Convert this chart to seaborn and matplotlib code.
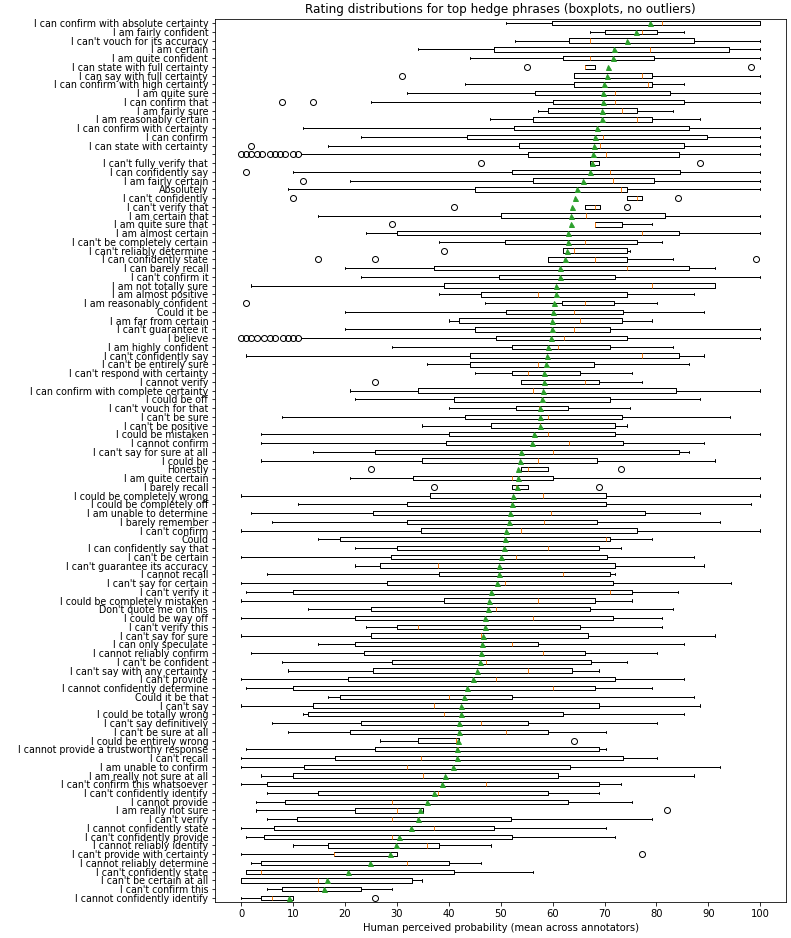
# plot.py
# Boxplots of human ratings for hedge phrases (summary stats)

import matplotlib
matplotlib.use("Agg")
import matplotlib.pyplot as plt
import seaborn as sns

# phrase labels, top to bottom (sorted by mean rating)
labels = [
    "I can confirm with absolute certainty", "I am fairly confident", "I can't vouch for its accuracy",
    "I am certain", "I am quite confident", "I can state with full certainty",
    "I can say with full certainty", "I can confirm with high certainty", "I am quite sure",
    "I can confirm that", "I am fairly sure", "I am reasonably certain",
    "I can confirm with certainty", "I can confirm", "I can state with certainty", "",
    "I can't fully verify that", "I can confidently say", "I am fairly certain", "Absolutely",
    "I can't confidently", "I can't verify that", "I am certain that", "I am quite sure that",
    "I am almost certain", "I can't be completely certain", "I can't reliably determine",
    "I can confidently state", "I can barely recall", "I can't confirm it", "I am not totally sure",
    "I am almost positive", "I am reasonably confident", "Could it be", "I am far from certain",
    "I can't guarantee it", "I believe", "I am highly confident", "I can't confidently say",
    "I can't be entirely sure", "I can't respond with certainty", "I cannot verify",
    "I can confirm with complete certainty", "I could be off", "I can't vouch for that",
    "I can't be sure", "I can't be positive", "I could be mistaken", "I cannot confirm",
    "I can't say for sure at all", "I could be", "Honestly", "I am quite certain", "I barely recall",
    "I could be completely wrong", "I could be completely off", "I am unable to determine",
    "I barely remember", "I can't confirm", "Could", "I can confidently say that",
    "I can't be certain", "I can't guarantee its accuracy", "I cannot recall",
    "I can't say for certain", "I can't verify it", "I could be completely mistaken",
    "Don't quote me on this", "I could be way off", "I can't verify this", "I can't say for sure",
    "I can only speculate", "I cannot reliably confirm", "I can't be confident",
    "I can't say with any certainty", "I can't provide", "I cannot confidently determine",
    "Could it be that", "I can't say", "I could be totally wrong", "I can't say definitively",
    "I can't be sure at all", "I could be entirely wrong", "I cannot provide a trustworthy response",
    "I can't recall", "I am unable to confirm", "I am really not sure at all",
    "I can't confirm this whatsoever", "I can't confidently identify", "I cannot provide",
    "I am really not sure", "I can't verify", "I cannot confidently state",
    "I can't confidently provide", "I cannot reliably identify", "I can't provide with certainty",
    "I cannot reliably determine", "I can't confidently state", "I can't be certain at all",
    "I can't confirm this", "I cannot confidently identify",
]

whislo = [51.1, 67.2, 52.8, 34.0, 44.0, 66.2, 64.1, 43.1, 32.0, 25.0, 57.1, 47.9, 11.9, 23.0, 16.8, 11.6,
          67.2, 10.0, 20.9, 9.0, 74.3, 66.2, 14.9, 68.2, 24.0, 38.1, 62.0, 59.1, 20.1, 23.0, 2.0,
          38.1, 47.0, 20.1, 40.0, 20.1, 11.6, 29.1, 1.0, 35.9, 45.0, 54.0, 21.0, 22.0, 40.0, 7.8,
          34.9, 3.9, 3.9, 13.9, 3.9, 54.0, 21.0, 52.1, 0.0, 11.0, 2.0, 5.9, 0.0, 14.9, 22.0, 0.0,
          22.0, 4.9, 0.0, 1.0, 0.0, 12.9, 0.0, 24.0, 0.0, 14.9, 2.0, 7.8, 9.0, 0.0, 1.0, 16.8, 0.0,
          11.9, 5.9, 9.0, 26.8, 1.0, 0.0, 0.0, 3.9, 0.0, 4.9, 2.9, 2.9, 4.9, 0.0, 1.0, 10.0, 0.0,
          2.0, 1.0, 0.0, 4.9, 0.0]
q1 = [59.9, 70.0, 63.1, 48.8, 62.0, 66.2, 64.1, 64.1, 56.7, 60.1, 59.1, 56.2, 52.5, 43.5, 53.5, 55.2,
      67.2, 52.1, 56.2, 45.0, 74.3, 66.2, 50.1, 68.2, 30.0, 50.8, 62.0, 59.1, 37.1, 49.6, 39.0,
      46.2, 61.8, 51.1, 42.0, 45.0, 49.1, 52.1, 44.0, 44.0, 52.1, 54.0, 34.0, 41.0, 53.0, 43.1,
      48.1, 40.0, 39.5, 25.8, 34.9, 54.0, 33.2, 52.1, 36.4, 32.0, 25.4, 32.0, 34.6, 19.1, 30.0,
      28.8, 26.8, 38.1, 28.1, 10.0, 39.0, 25.0, 22.0, 30.0, 25.0, 22.0, 23.7, 29.1, 25.4, 20.5,
      10.0, 19.1, 13.9, 12.9, 23.0, 21.0, 34.0, 25.8, 18.1, 12.2, 10.0, 4.9, 14.9, 8.5, 22.0,
      10.8, 6.3, 4.4, 16.8, 17.8, 3.9, 1.0, 0.0, 7.8, 3.9]
med = [81.1, 77.3, 67.2, 78.8, 67.2, 66.2, 77.3, 78.3, 72.1, 72.1, 73.3, 76.2, 68.5, 69.7, 69.2, 70.2,
       67.7, 71.1, 71.6, 73.1, 76.2, 68.2, 66.5, 68.2, 77.3, 66.2, 64.1, 68.2, 74.3, 61.5, 79.2,
       57.1, 66.2, 64.1, 65.3, 64.1, 62.1, 61.1, 77.3, 57.1, 55.2, 66.2, 56.2, 57.9, 57.4, 59.1,
       57.6, 59.1, 63.1, 60.1, 57.1, 55.2, 52.1, 53.0, 58.1, 52.1, 59.6, 58.4, 54.0, 70.2, 59.1,
       53.0, 37.9, 62.0, 50.8, 71.1, 57.1, 49.1, 56.2, 34.0, 46.2, 52.1, 58.1, 47.2, 55.2, 49.1,
       60.1, 40.0, 37.1, 39.0, 46.2, 51.1, 41.3, 41.8, 34.6, 32.0, 35.1, 47.2, 37.9, 29.1, 30.0,
       29.1, 37.1, 29.1, 35.9, 17.8, 32.0, 3.9, 14.9, 14.9, 5.9]
q3 = [100.0, 80.1, 87.3, 93.9, 79.6, 68.2, 79.2, 79.2, 82.7, 85.3, 76.2, 79.2, 86.3, 89.7, 85.3, 84.3,
      69.0, 84.6, 79.6, 74.3, 77.2, 69.2, 81.7, 73.3, 84.3, 76.2, 74.3, 74.3, 86.3, 72.1, 91.2,
      74.3, 71.9, 73.6, 73.3, 71.1, 74.3, 71.1, 84.3, 67.9, 65.3, 69.0, 83.7, 71.1, 63.0, 73.3,
      72.1, 72.1, 73.6, 84.3, 68.5, 59.1, 60.1, 55.2, 70.2, 70.2, 77.7, 68.5, 76.2, 71.1, 69.0,
      70.4, 72.1, 71.1, 71.6, 75.2, 68.2, 67.2, 71.6, 65.3, 66.9, 57.1, 66.2, 67.4, 63.8, 72.1,
      68.2, 52.1, 69.0, 62.0, 55.2, 59.1, 42.0, 69.0, 73.6, 63.3, 61.1, 69.0, 59.1, 63.0, 35.1,
      51.9, 48.8, 52.1, 38.1, 30.0, 40.0, 41.0, 33.0, 23.0, 10.0]
whishi = [100.0, 85.3, 100.0, 100.0, 100.0, 68.2, 100.0, 85.3, 100.0, 100.0, 83.2, 88.3, 100.0, 100.0,
          100.0, 100.0, 69.0, 100.0, 100.0, 100.0, 77.2, 69.2, 100.0, 79.2, 100.0, 81.1, 75.0, 83.2,
          91.2, 100.0, 91.2, 87.3, 80.1, 89.2, 79.2, 100.0, 100.0, 83.2, 89.2, 86.3, 75.3, 77.2,
          100.0, 88.3, 75.0, 94.1, 74.3, 100.0, 89.2, 86.3, 91.2, 59.1, 100.0, 55.2, 100.0, 98.2,
          88.3, 92.2, 100.0, 79.2, 73.1, 87.3, 89.2, 72.1, 94.3, 84.1, 75.2, 83.2, 81.1, 81.1, 91.2,
          85.3, 80.1, 74.3, 69.0, 85.3, 79.2, 87.3, 88.3, 85.3, 80.1, 70.2, 42.0, 70.2, 80.1, 92.2,
          87.3, 73.1, 69.0, 75.2, 35.1, 79.2, 70.2, 72.1, 48.1, 30.0, 46.2, 56.2, 34.9, 29.1, 10.0]
means = [78.7, 76.0, 74.3, 71.9, 71.6, 70.6, 70.4, 69.9, 69.7, 69.7, 69.5, 69.5, 68.5, 68.2, 68.0, 67.7,
         67.5, 67.2, 65.9, 64.6, 64.3, 63.8, 63.5, 63.5, 63.0, 63.0, 62.8, 62.3, 61.5, 61.5, 60.6,
         60.6, 60.2, 60.1, 59.9, 59.9, 59.6, 59.1, 58.9, 58.7, 58.4, 58.4, 58.2, 57.9, 57.6, 57.6,
         57.6, 56.5, 56.0, 54.0, 53.7, 53.4, 53.3, 53.1, 52.3, 52.1, 51.8, 51.6, 51.1, 50.9, 50.6,
         50.1, 49.6, 49.6, 49.3, 48.1, 47.8, 47.5, 46.9, 46.9, 46.5, 46.4, 46.2, 46.0, 45.4, 44.7,
         43.5, 43.0, 42.3, 42.3, 42.0, 42.0, 41.8, 41.6, 41.5, 40.8, 39.3, 38.6, 37.1, 35.9, 34.4,
         34.0, 32.7, 30.5, 29.8, 28.6, 24.9, 20.5, 16.5, 15.9, 9.2]

# outlier points per phrase (only phrases that have them)
fliers = {
    "I can state with full certainty": [55.0, 98.3],
    "I can say with full certainty": [31.0],
    "I can confirm that": [7.8, 13.9],
    "I can state with certainty": [1.9],
    "": [0.0, 1.0, 2.0, 3.0, 4.0, 5.5, 6.5, 7.5, 8.5, 10.0, 11.0],
    "I can't fully verify that": [46.2, 88.3],
    "I can confidently say": [1.0],
    "I am fairly certain": [11.9],
    "I can't confidently": [10.0, 84.1],
    "I can't verify that": [41.0, 74.3],
    "I am quite sure that": [29.1],
    "I can't reliably determine": [39.0],
    "I can confidently state": [14.9, 25.8, 99.2],
    "I am reasonably confident": [1.0],
    "I believe": [0.0, 1.0, 2.0, 3.0, 4.5, 5.5, 6.5, 8.0, 9.0, 10.0, 11.0],
    "I cannot verify": [25.8],
    "Honestly": [25.0, 73.1],
    "I barely recall": [37.1, 69.0],
    "I could be entirely wrong": [64.1],
    "I am really not sure": [82.1],
    "I can't provide with certainty": [77.2],
    "I cannot confidently identify": [25.8],
}

sns.set_style("ticks", {"axes.edgecolor": "black", "xtick.color": "black", "ytick.color": "black",
                        "text.color": "black", "axes.labelcolor": "black"})
plt.rcParams["font.family"] = ["DejaVu Sans"]

stats = []
for i in range(len(labels)):
    stats.append({"label": labels[i], "whislo": whislo[i], "q1": q1[i], "med": med[i],
                  "q3": q3[i], "whishi": whishi[i], "mean": means[i],
                  "fliers": fliers.get(labels[i], [])})

fig, ax = plt.subplots(figsize=(791 / 72, 938 / 72), dpi=72)
ax.bxp(stats, positions=range(1, len(stats) + 1), orientation="horizontal", showmeans=True,
       boxprops=dict(color="black", linewidth=1),
       whiskerprops=dict(color="black", linewidth=1),
       capprops=dict(color="black", linewidth=1),
       medianprops=dict(color="#ff7f0e", linewidth=1),
       meanprops=dict(marker="^", markerfacecolor="#2ca02c", markeredgecolor="#2ca02c", markersize=5),
       flierprops=dict(marker="o", markerfacecolor="none", markeredgecolor="black", markersize=6))
ax.invert_yaxis()
ax.set_xticks(range(0, 101, 10))
ax.tick_params(axis="y", labelsize=9.5)
ax.set_title("Rating distributions for top hedge phrases (boxplots, no outliers)")
ax.set_xlabel("Human perceived probability (mean across annotators)")

fig.subplots_adjust(left=0.272, right=0.994, top=0.98, bottom=0.038)
plt.savefig("out.png", dpi=72)
